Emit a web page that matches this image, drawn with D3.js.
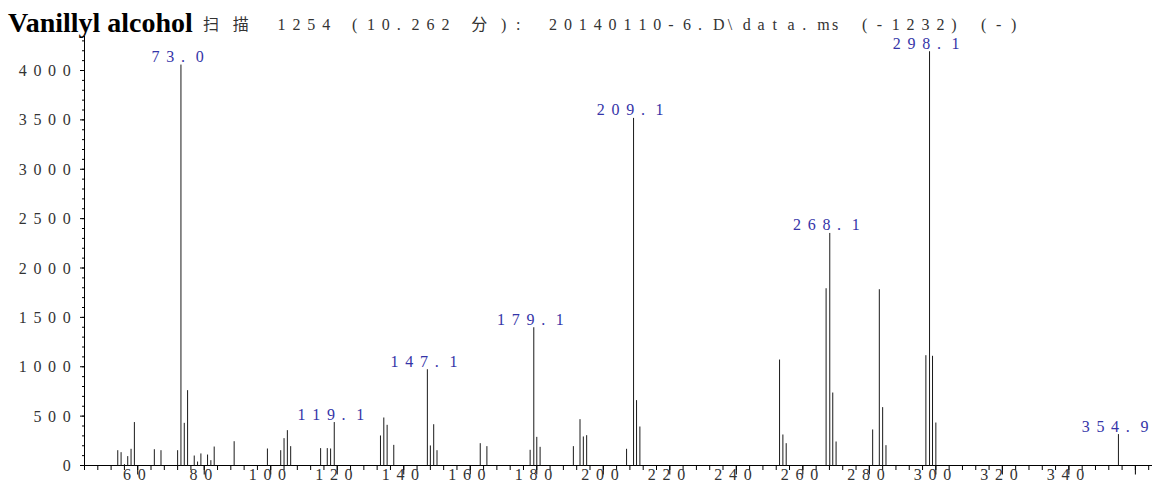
<!DOCTYPE html>
<html><head><meta charset="utf-8">
<script src="https://cdn.jsdelivr.net/npm/d3@7"></script>
<style>
html,body{margin:0;padding:0;background:#fff;}
svg{display:block;}
.t-serif{font-family:"Liberation Serif","Times New Roman","DejaVu Serif",Times,serif;}
.t-grid{font-family:"Liberation Serif","Times New Roman","DejaVu Serif",Times,"Noto Sans CJK SC",serif;}
</style></head><body>
<svg id="chart" width="1152" height="492"></svg>
<script>
// Mass spectrum of a single scan
const titleText = "Vanillyl alcohol";
const scanHeader = "扫描 1254 (10.262 分):";
const scanFile = "20140110-6.D\\data.ms (-1232) (-)";

// m/z of each ion and its abundance
const mz = [54, 55, 56, 57, 58, 59, 65, 67, 72, 73.0, 74, 75, 77, 78, 79, 81, 82, 83, 89,
  99, 103, 104, 105, 106, 115, 117, 118, 119.1, 133, 134, 135, 137, 147.1, 148, 149, 150,
  163, 165, 178, 179.1, 180, 181, 191, 193, 194, 195, 207, 209.1, 210, 211,
  253, 254, 255, 267, 268.1, 269, 270, 281, 283, 284, 285, 297, 298.1, 299, 300, 354.9];
const abundance = [155, 135, 14, 95, 169, 440, 165, 155, 155, 4060, 432, 763, 101, 40, 122, 111, 54, 192, 246,
  172, 155, 277, 358, 196, 176, 176, 172, 440, 304, 486, 412, 209, 975, 203, 418, 155,
  226, 196, 159, 1400, 290, 189, 196, 469, 294, 307, 169, 3520, 662, 395,
  1073, 314, 226, 1795, 2355, 739, 243, 365, 1785, 591, 206, 1117, 4195, 1111, 435, 318];

// Annotated peaks
const peakLabels = ["73.0", "119.1", "147.1", "179.1", "209.1", "268.1", "298.1", "354.9"];

// Axis ticks
const yLabelValues = [0, 500, 1000, 1500, 2000, 2500, 3000, 3500, 4000];
const xLabelValues = [60, 80, 100, 120, 140, 160, 180, 200, 220, 240, 260, 280, 300, 320, 340];

const svg = d3.select("#chart");
const FS = 16;
const CELL = 14.7;      // fixed character cell
const TITLE_CELL = 14.9;

const x = d3.scaleLinear().domain([44, 365]).range([84.5, 84.5 + 321 * 3.3256]);
const y = d3.scaleLinear().domain([0, 4350]).range([465.5, 465.5 - 4350 * 0.09875]);

const isWide = ch => ch.codePointAt(0) > 0x2E80;

// Places each character on a fixed-width grid (wide glyphs take two cells)
function gridText(g, str, x0, baseline, cell, fill, anchor) {
  const chars = Array.from(str);
  const total = chars.reduce((s, c) => s + (isWide(c) ? 2 : 1), 0) * cell;
  let start = x0;
  if (anchor === "middle") start = x0 - total / 2;
  else if (anchor === "end") start = x0 - total;
  const xs = [];
  let cx = start;
  for (const c of chars) { xs.push(cx.toFixed(2)); cx += (isWide(c) ? 2 : 1) * cell; }
  return g.append("text")
    .attr("class", "t-grid")
    .attr("x", xs.join(" "))
    .attr("y", baseline)
    .attr("font-size", FS)
    .attr("fill", fill)
    .text(str);
}

// Title
svg.append("text")
  .attr("class", "t-serif")
  .attr("x", 8).attr("y", 32)
  .attr("font-weight", "bold")
  .attr("font-size", 28)
  .attr("fill", "#000")
  .text(titleText);
gridText(svg, scanHeader, 203, 29.5, TITLE_CELL, "#333", "start");
gridText(svg, scanFile, 549, 29.5, TITLE_CELL, "#333", "start");

// Y axis: minor ticks every 100, major every 500
const yMinor = d3.range(0, 4301, 100);
svg.append("g").attr("transform", "translate(84.5,0)")
  .call(d3.axisLeft(y).tickValues(yMinor).tickSize(2.5).tickSizeOuter(0).tickFormat("").offset(0))
  .call(g => g.selectAll("line,path").attr("stroke", "#000"));
svg.append("g").attr("transform", "translate(84.5,0)")
  .call(d3.axisLeft(y).tickValues(yLabelValues).tickSize(4.5).tickSizeOuter(0).tickFormat("").offset(0))
  .call(g => g.select(".domain").remove())
  .call(g => g.selectAll("line").attr("stroke", "#000"));
const yLab = svg.append("g");
yLabelValues.forEach(v => gridText(yLab, String(v), 77.5, y(v) + 5.5, CELL, "#333", "end"));

// X axis: minor ticks every 4, major every 20
const xMinor = d3.range(44, 365, 4);
const xMajor = d3.range(60, 361, 20);
svg.append("g").attr("transform", `translate(0,${y(0)})`)
  .call(d3.axisBottom(x).tickValues(xMinor).tickSize(4.5).tickSizeOuter(0).tickFormat("").offset(0))
  .call(g => g.selectAll("line,path").attr("stroke", "#000"));
svg.append("g").attr("transform", `translate(0,${y(0)})`)
  .call(d3.axisBottom(x).tickValues(xMajor).tickSize(9).tickSizeOuter(0).tickFormat("").offset(0))
  .call(g => g.select(".domain").remove())
  .call(g => g.selectAll("line").attr("stroke", "#000"));
const xLab = svg.append("g");
xLabelValues.forEach(v => gridText(xLab, String(v), x(v), 479.5, CELL, "#333", "middle"));

// Peaks
const peaks = mz.map((m, i) => ({ m, a: abundance[i] }));
svg.append("g").selectAll("line").data(peaks).join("line")
  .attr("x1", d => x(d.m)).attr("x2", d => x(d.m))
  .attr("y1", y(0)).attr("y2", d => y(d.a))
  .attr("stroke", "#1a1a1a").attr("stroke-width", 1);

// Peak annotations
const labG = svg.append("g");
peakLabels.forEach(t => {
  const m = +t;
  const p = peaks.find(d => d.m === m);
  gridText(labG, t, x(m), y(p.a) - 2.5, CELL, "#3434a8", "middle");
});
</script>
</body></html>
